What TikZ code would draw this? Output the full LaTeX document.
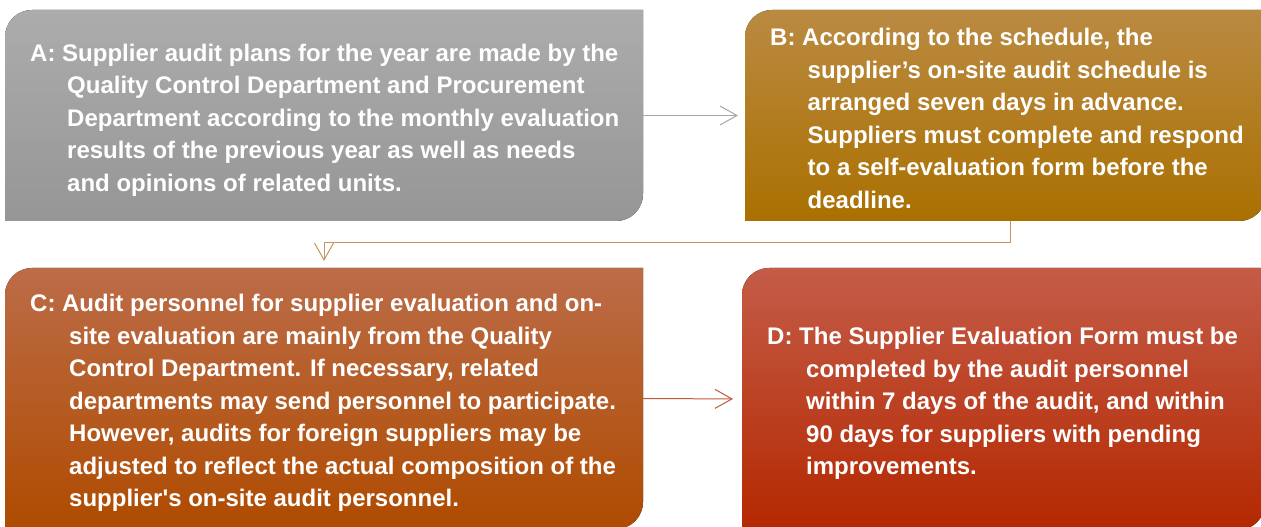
\documentclass[tikz,border=0pt]{standalone}
\usepackage{fontspec}
\setmainfont{Liberation Sans}
\newfontfamily\nolig{Liberation Sans}
\usetikzlibrary{arrows.meta}
\definecolor{aTop}{RGB}{172,172,172}
\definecolor{aBot}{RGB}{150,150,150}
\definecolor{bTop}{RGB}{186,138,66}
\definecolor{bBot}{RGB}{170,112,0}
\definecolor{cTop}{RGB}{188,108,72}
\definecolor{cBot}{RGB}{175,75,0}
\definecolor{dTop}{RGB}{196,92,72}
\definecolor{dBot}{RGB}{180,40,0}
\definecolor{lnA}{RGB}{166,166,166}
\definecolor{lnB}{RGB}{201,149,92}
\definecolor{lnC}{RGB}{192,88,58}
\newcommand\roundbox[3]{%
  \fill[top color=#2,bottom color=#3] (#1.south west) -- ([yshift=-27pt]#1.north west)
    arc[start angle=180,end angle=90,radius=27pt] -- (#1.north east)
    -- ([yshift=27pt]#1.south east) arc[start angle=0,end angle=-90,radius=27pt] -- cycle;}
\begin{document}
\begin{tikzpicture}[x=1pt,y=1pt,
  box/.style={draw=none,inner sep=0pt,outer sep=0pt,rectangle},
  txt/.style={anchor=north west,inner sep=0pt,align=left,text=white,
    font=\bfseries\fontsize{24}{32.5}\selectfont},
  conn/.style={line width=1pt,-{Straight Barb[length=17pt,width=19pt,line width=1pt]}}]
\useasboundingbox (0,0) rectangle (1261,527);
% boxes
\node[box,minimum width=638pt,minimum height=211pt] (A) at (324,411.5) {};
\node[box,minimum width=521pt,minimum height=211pt] (B) at (1005.5,411.5) {};
\node[box,minimum width=638pt,minimum height=261pt] (C) at (324,128.5) {};
\node[box,minimum width=523pt,minimum height=262pt] (D) at (1003.5,128) {};
\roundbox{A}{aTop}{aBot}
\roundbox{B}{bTop}{bBot}
\roundbox{C}{cTop}{cBot}
\roundbox{D}{dTop}{dBot}
% texts
\node[txt] (tA) at (30,486) {\rule{0pt}{20pt}A: Supplier audit plans for the year are made by the\\
\hspace*{37pt}Quality Control Department and Procurement\\
\hspace*{37pt}Department according to the monthly evaluation\\
\hspace*{37pt}results of the previous year as well as needs\\
\hspace*{37pt}and opinions of related units.};
\node[txt] (tB) at (770,501.5) {\rule{0pt}{20pt}B: According to the schedule, the\\
\hspace*{37.5pt}supplier’s on-site audit schedule is\\
\hspace*{37.5pt}arranged seven days in advance.\\
\hspace*{37.5pt}Suppliers must complete and respond\\
\hspace*{37.5pt}to a self-evaluation form before the\\
\hspace*{37.5pt}deadline.};
\node[txt] (tC) at (30,235.5) {\rule{0pt}{20pt}C: Audit personnel for supplier evaluation and on-\\
\hspace*{39pt}site evaluation are mainly from the Quality\\
\hspace*{39pt}Control Department. If necessary, related\\
\hspace*{39pt}departments may send personnel to participate.\\
\hspace*{39pt}However, audits for foreign suppliers may be\\
\hspace*{39pt}adjusted to reflect the actual composition of the\\
\hspace*{39pt}supplier{\nolig '}s on-site audit personnel.};
\node[txt] (tD) at (767,202.5) {\rule{0pt}{20pt}D: The Supplier Evaluation Form must be\\
\hspace*{39pt}completed by the audit personnel\\
\hspace*{39pt}within 7 days of the audit, and within\\
\hspace*{39pt}90 days for suppliers with pending\\
\hspace*{39pt}improvements.};
% connectors
\draw[conn,draw=lnA] (A.east) -- (B.west) [shorten >=7pt];
\draw[conn,draw=lnB,shorten >=7pt] ([xshift=4.5pt]B.south) -- ++(0,-22) -| (C.north);
\draw[conn,draw=lnC,shorten >=9pt] (C.east) -- (D.west);
\end{tikzpicture}
\end{document}
